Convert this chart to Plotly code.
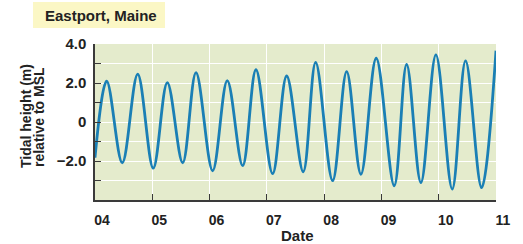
import plotly.graph_objects as go

# Times (days, day-of-month) of tidal highs/lows and their heights (m)
times = [4.0, 4.204, 4.476, 4.745, 5.017, 5.262, 5.531, 5.763, 6.054, 6.309, 6.578, 6.810,
         7.101, 7.346, 7.635, 7.852, 8.148, 8.393, 8.642, 8.909, 9.223, 9.440, 9.689,
         9.951, 10.236, 10.469, 10.749, 11.0]
heights = [-1.83, 2.10, -2.09, 2.45, -2.37, 2.02, -2.09, 2.53, -2.50, 2.12, -2.24, 2.68,
           -2.65, 2.36, -2.55, 3.06, -3.01, 2.58, -2.68, 3.27, -3.27, 2.96, -3.11,
           3.44, -3.44, 3.13, -3.37, 3.66]

x_tickvals = [4, 5, 6, 7, 8, 9, 10, 11]
x_ticktext = ["04", "05", "06", "07", "08", "09", "10", "11"]
y_tickvals = [4, 3, 2, 1, 0, -1, -2, -3, -4]
y_ticktext = ["4.0", "", "2.0", "", "0", "", "\u22122.0", "", ""]

FONT = "Liberation Sans, Arial, Helvetica, sans-serif"
AXIS = "#3a3a3a"

fig = go.Figure()
fig.add_trace(go.Scatter(
    x=times, y=heights, mode="lines",
    line=dict(color="#1a7fb5", width=2.8, shape="spline", smoothing=1.0),
    hoverinfo="skip", showlegend=False,
))

fig.update_layout(
    width=523, height=244,
    margin=dict(l=95, r=27, t=44, b=44),
    paper_bgcolor="white",
    plot_bgcolor="#e4ebcc",
    font=dict(family=FONT, size=14, color="#222222"),
    xaxis=dict(
        range=[4, 11], tickmode="array", tickvals=x_tickvals, ticktext=x_ticktext,
        showgrid=True, gridcolor="white", gridwidth=1.2, zeroline=False,
        showline=True, linecolor=AXIS, linewidth=1.5,
        ticks="inside", ticklen=6, tickwidth=1.3, tickcolor=AXIS,
        tickfont=dict(family=FONT, size=14, color="#222222", weight="bold"),
        ticklabelshift=7, ticklabelstandoff=6,
    ),
    yaxis=dict(
        range=[-4, 4], tickmode="array", tickvals=y_tickvals, ticktext=y_ticktext,
        showgrid=True, gridcolor="white", gridwidth=1.2, zeroline=False,
        showline=True, linecolor=AXIS, linewidth=1.5,
        ticks="inside", ticklen=6, tickwidth=1.3, tickcolor=AXIS,
        tickfont=dict(family=FONT, size=15, color="#222222", weight="bold"),
        ticklabelstandoff=4,
    ),
)

# Title box
fig.add_shape(type="rect", xref="paper", yref="paper",
              x0=(33 - 95) / 401, x1=(165 - 95) / 401,
              y0=(200 - 28) / 156, y1=(200 - 2) / 156,
              fillcolor="#fbf7c5", line=dict(width=0), layer="below")
fig.add_annotation(text="<b>Eastport, Maine</b>", xref="paper", yref="paper",
                   x=(101 - 95) / 401, y=(200 - 15) / 156, xanchor="center", yanchor="middle",
                   showarrow=False, font=dict(family=FONT, size=15, color="#222222"))

# Y axis title (two lines)
fig.add_annotation(text="<b>Tidal height (m)</b>", xref="paper", yref="paper",
                   x=(26 - 95) / 401, y=(200 - 116) / 156, xanchor="center", yanchor="middle",
                   textangle=-90, showarrow=False, font=dict(family=FONT, size=14, color="#222222"))
fig.add_annotation(text="<b>relative to MSL</b>", xref="paper", yref="paper",
                   x=(39 - 95) / 401, y=(200 - 117) / 156, xanchor="center", yanchor="middle",
                   textangle=-90, showarrow=False, font=dict(family=FONT, size=14, color="#222222"))

# X axis title
fig.add_annotation(text="<b>Date</b>", xref="paper", yref="paper",
                   x=(297 - 95) / 401, y=(200 - 235.5) / 156, xanchor="center", yanchor="middle",
                   showarrow=False, font=dict(family=FONT, size=15, color="#222222"))

fig.write_html("out.html")
